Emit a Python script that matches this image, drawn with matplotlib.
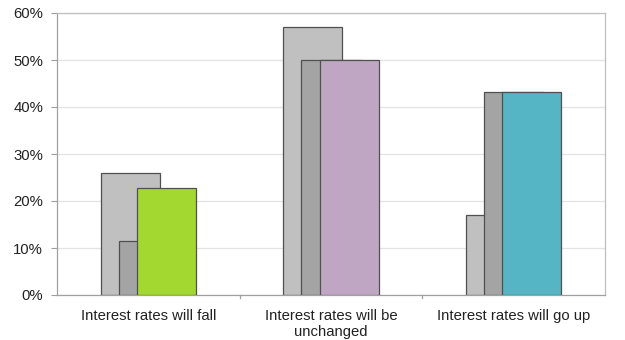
import matplotlib
matplotlib.use("Agg")
import matplotlib.pyplot as plt
import numpy as np

plt.rcParams['font.family'] = ['Liberation Sans', 'DejaVu Sans']

categories = ["Interest rates will fall", "Interest rates will be\nunchanged", "Interest rates will go up"]
back_values = [26.0, 57.0, 17.0]
middle_values = [11.4, 50.0, 43.1]
front_values = [22.7, 50.0, 43.1]
front_colors = ["#A3D831", "#BFA7C4", "#55B5C4"]
y_ticks = [0, 10, 20, 30, 40, 50, 60]

fig = plt.figure(figsize=(6.25, 3.4), dpi=100)
ax = fig.add_axes([57/625, 1 - 295/340, 548/625, 282/340])

x = np.arange(len(categories))
width = 0.323
step = 0.099
edge = "#505050"

ax.bar(x - step, back_values, width, color="#C0C0C0", edgecolor=edge, linewidth=0.9, zorder=2)
ax.bar(x, middle_values, width, color="#A4A4A4", edgecolor=edge, linewidth=0.9, zorder=3)
ax.bar(x + step, front_values, width, color=front_colors, edgecolor=edge, linewidth=0.9, zorder=4)

ax.set_xlim(-0.5, len(categories) - 0.5)
ax.set_ylim(0, 60)
ax.set_yticks(y_ticks)
ax.set_yticklabels([f"{v}%" for v in y_ticks], fontsize=10.7, color="#222222")
ax.yaxis.grid(True, color="#E3E3E3", linewidth=0.9, zorder=0)
ax.set_axisbelow(True)

ax.set_xticks(x)
ax.set_xticklabels(categories, fontsize=10.7, color="#222222", linespacing=1.15)
ax.tick_params(axis='x', length=0, pad=10)
ax.tick_params(axis='y', length=4, color="#A0A0A0", pad=6)
for b in np.arange(0.5, len(categories) - 0.5, 1.0):
    ax.plot([b, b], [0, -0.012], transform=ax.get_xaxis_transform(), color="#A0A0A0",
            linewidth=0.9, clip_on=False)

for side in ["left", "bottom", "top", "right"]:
    ax.spines[side].set_color("#BEBEBE")
    ax.spines[side].set_linewidth(0.9)
ax.spines["left"].set_color("#A0A0A0")
ax.spines["bottom"].set_color("#A0A0A0")

fig.savefig("out.png", dpi=100)
